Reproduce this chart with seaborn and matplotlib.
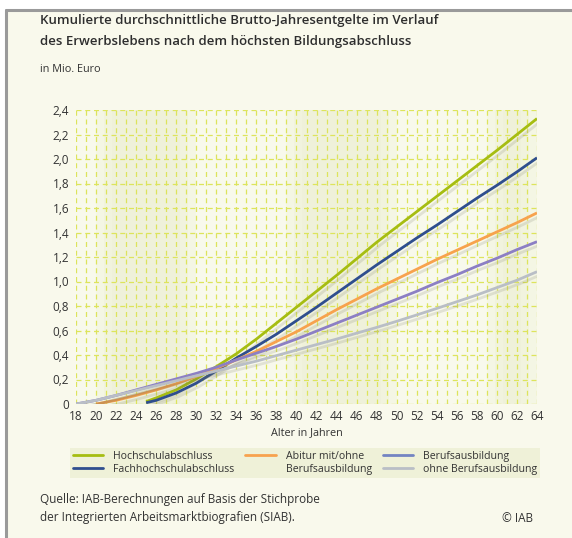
import numpy as np
import pandas as pd
import matplotlib.pyplot as plt
import matplotlib.patheffects as pe
from matplotlib.lines import Line2D
from matplotlib.patches import Rectangle
import seaborn as sns

# ages (years) and cumulative gross earnings (Mio. Euro)
ages_hoch = [25, 26, 28, 30, 32, 34, 36, 38, 40, 42, 44, 46, 48, 50, 52, 54, 56, 58, 60, 62, 64]
hochschul = [0.02, 0.05, 0.115, 0.205, 0.305, 0.41, 0.53, 0.66, 0.79, 0.92, 1.05, 1.185, 1.32, 1.445, 1.57, 1.695, 1.82, 1.945, 2.07, 2.20, 2.33]
fachhoch = [0.01, 0.03, 0.09, 0.17, 0.27, 0.375, 0.47, 0.57, 0.68, 0.79, 0.905, 1.02, 1.135, 1.245, 1.355, 1.46, 1.57, 1.68, 1.785, 1.895, 2.01]

ages_abi = [20, 22, 24, 26, 28, 30, 32, 34, 36, 38, 40, 42, 44, 46, 48, 50, 52, 54, 56, 58, 60, 62, 64]
abitur = [0.0, 0.03, 0.07, 0.115, 0.165, 0.225, 0.29, 0.36, 0.43, 0.51, 0.59, 0.68, 0.77, 0.855, 0.94, 1.02, 1.10, 1.18, 1.255, 1.33, 1.405, 1.48, 1.56]

ages_beruf = [18, 20, 22, 24, 26, 28, 30, 32, 34, 36, 38, 40, 42, 44, 46, 48, 50, 52, 54, 56, 58, 60, 62, 64]
beruf = [0.0, 0.03, 0.07, 0.115, 0.16, 0.205, 0.25, 0.30, 0.36, 0.415, 0.47, 0.53, 0.595, 0.66, 0.725, 0.79, 0.855, 0.92, 0.99, 1.055, 1.125, 1.19, 1.26, 1.325]
ohne = [0.0, 0.03, 0.07, 0.11, 0.15, 0.19, 0.23, 0.27, 0.31, 0.35, 0.395, 0.44, 0.485, 0.53, 0.578, 0.625, 0.675, 0.727, 0.78, 0.835, 0.89, 0.95, 1.01, 1.08]

groups = ["Hochschulabschluss", "Fachhochschulabschluss", "Abitur mit/ohne Berufsausbildung",
          "Berufsausbildung", "ohne Berufsausbildung"]
colors = ["#a6bd12", "#2f4e8e", "#f7a24e", "#8c7fc4", "#b9bec6"]

frames = [
    pd.DataFrame({"alter": ages_hoch, "wert": hochschul, "gruppe": groups[0]}),
    pd.DataFrame({"alter": ages_hoch, "wert": fachhoch, "gruppe": groups[1]}),
    pd.DataFrame({"alter": ages_abi, "wert": abitur, "gruppe": groups[2]}),
    pd.DataFrame({"alter": ages_beruf, "wert": beruf, "gruppe": groups[3]}),
    pd.DataFrame({"alter": ages_beruf, "wert": ohne, "gruppe": groups[4]}),
]
df = pd.concat(frames, ignore_index=True)

sns.set_style("white")
plt.rcParams["font.family"] = ["Open Sans", "DejaVu Sans"]
txt = "#333333"

fig = plt.figure(figsize=(5.72, 5.38), dpi=100, facecolor="white")

# cream panel with grey frame on left/top
fig.patches.append(Rectangle((6 / 572, 0), 1, 1 - 10 / 538, transform=fig.transFigure,
                             facecolor="#f9f9ec", edgecolor="none", zorder=-10))
fig.add_artist(Line2D([6 / 572, 6 / 572], [0, 1 - 10 / 538], transform=fig.transFigure,
                      color="#9a9a9a", lw=2.2))
fig.add_artist(Line2D([6 / 572, 1], [1 - 10 / 538, 1 - 10 / 538], transform=fig.transFigure,
                      color="#9a9a9a", lw=2.2))

ax = fig.add_axes([76 / 572, 1 - 404 / 538, (537 - 76) / 572, 294 / 538])
ax.set_facecolor("#f8f9ec")

# soft vertical shading bands (layered for a gradient look)
for a, b in [(20, 30), (39, 50), (59, 64)]:
    for k in range(3):
        ax.axvspan(a + k * 0.8, b - k * 0.8, color="#eceed0", alpha=0.25, lw=0, zorder=0)

sns.lineplot(data=df, x="alter", y="wert", hue="gruppe", hue_order=groups,
             palette=colors, linewidth=2.0, ax=ax, legend=False, errorbar=None, zorder=3)

shadow = [pe.SimpleLineShadow(offset=(2, -2.5), shadow_color="#6b6b5a", alpha=0.16),
          pe.Normal()]
for line in ax.lines:
    line.set_path_effects(shadow)
    line.set_solid_capstyle("butt")

ax.set_xlim(18, 64)
ax.set_ylim(0, 2.4)
ax.set_xticks(np.arange(18, 65, 2))
ax.set_yticks(np.arange(0, 2.41, 0.2))
ax.set_yticklabels(["0"] + [f"{v:.1f}".replace(".", ",") for v in np.arange(0.2, 2.41, 0.2)])
ax.set_xticks(np.arange(18, 65, 1), minor=True)
ax.tick_params(axis="both", which="both", length=0, labelsize=8.5, colors=txt)
ax.tick_params(axis="x", pad=4)
ax.tick_params(axis="y", pad=5)

ax.grid(True, which="both", axis="x", color="#dde45c", lw=0.9, ls=(0, (4, 3)))
ax.grid(True, which="major", axis="y", color="#dde45c", lw=0.9, ls=(0, (4, 3)))
ax.set_axisbelow(True)
for s in ax.spines.values():
    s.set_visible(False)

ax.set_xlabel("Alter in Jahren", fontsize=7.8, color=txt, labelpad=3)
ax.set_ylabel("")

# legend
handles = [Line2D([], [], color=colors[0], lw=2),
           Line2D([], [], color=colors[1], lw=2),
           Line2D([], [], color=colors[2], lw=2),
           Line2D([], [], color="none", lw=2),
           Line2D([], [], color="#7384c2", lw=2),
           Line2D([], [], color=colors[4], lw=2)]
labels = ["Hochschulabschluss", "Fachhochschulabschluss", "Abitur mit/ohne", "Berufsausbildung",
          "Berufsausbildung", "ohne Berufsausbildung"]
leg = fig.legend(handles, labels, ncol=3, loc="center", bbox_to_anchor=(305 / 572, 1 - 463 / 538),
                 fontsize=7.6, frameon=True, facecolor="#eff1d8", edgecolor="none",
                 handlelength=2.85, handletextpad=0.95, columnspacing=1.05, labelspacing=0.2,
                 borderpad=0.3, borderaxespad=0, fancybox=False)
leg.get_frame().set_alpha(1)
for t in leg.get_texts():
    t.set_color(txt)

# titles and notes
fig.text(40 / 572, 1 - 31 / 538, "Kumulierte durchschnittliche Brutto-Jahresentgelte im Verlauf\n"
         "des Erwerbslebens nach dem höchsten Bildungsabschluss",
         fontsize=9.5, fontweight="semibold", color="#2e2e2e", va="center", linespacing=1.75)
fig.text(40 / 572, 1 - 70 / 538, "in Mio. Euro", fontsize=7.8, color=txt, va="center")
fig.text(40 / 572, 1 - 508 / 538, "Quelle: IAB-Berechnungen auf Basis der Stichprobe\n"
         "der Integrierten Arbeitsmarktbiografien (SIAB).",
         fontsize=8.5, color=txt, va="center", linespacing=1.5)
fig.text(533 / 572, 1 - 518 / 538, "© IAB", fontsize=8.5, color=txt, va="center", ha="right")

fig.savefig("out.png", dpi=100, facecolor=fig.get_facecolor())
